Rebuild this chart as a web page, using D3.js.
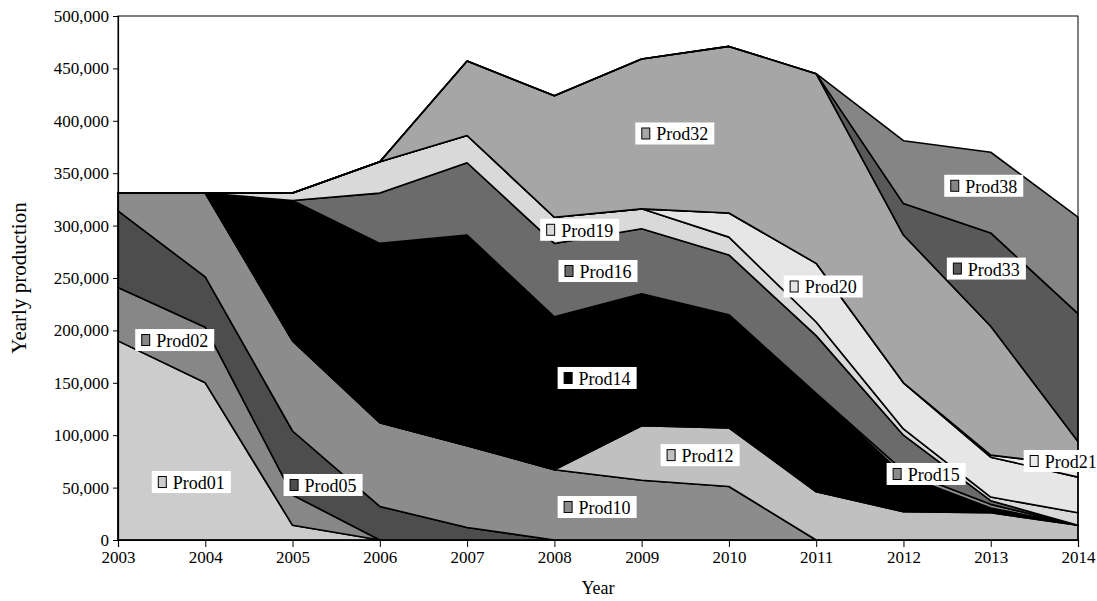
<!DOCTYPE html>
<html><head><meta charset="utf-8">
<script src="https://cdn.jsdelivr.net/npm/d3@7/dist/d3.min.js"></script>
<style>
body{margin:0;background:#fff}
text{font-family:"Liberation Serif","Times New Roman",serif;fill:#000}
</style>
</head><body>
<svg id="chart" width="1097" height="601"></svg>
<script>
// ---- data ----
const years = [2003,2004,2005,2006,2007,2008,2009,2010,2011,2012,2013,2014];
const Prod01 = [190000,150000,14000,0,0,0,0,0,0,0,0,0];
const Prod02 = [51000,53000,29000,0,0,0,0,0,0,0,0,0];
const Prod05 = [73000,48000,61000,32000,12000,0,0,0,0,0,0,0];
const Prod10 = [17000,80000,86000,80000,78000,67000,57000,51000,0,0,0,0];
const Prod12 = [0,0,0,0,0,0,52000,56000,46000,27000,26000,14000];
const Prod14 = [0,0,134000,171000,201000,146000,126000,108000,94000,35000,4500,0];
const Prod15 = [0,0,0,0,0,0,0,0,0,4000,3500,0];
const Prod16 = [0,0,0,48000,69000,70000,62000,57000,55000,34000,3500,0];
const Prod19 = [0,0,7000,30000,26000,25000,19000,17000,13000,6000,3500,12000];
const Prod20 = [0,0,0,0,0,0,0,23000,56000,44000,38000,34000];
const Prod21 = [0,0,0,0,0,0,0,0,0,0,2000,11000];
const Prod32 = [0,0,0,0,71000,116000,143000,159000,181000,141000,123000,23000];
const Prod33 = [0,0,0,0,0,0,0,0,0,30000,89000,122000];
const Prod38 = [0,0,0,0,0,0,0,0,0,60000,77000,92000];
const seriesNames = ["Prod01","Prod02","Prod05","Prod10","Prod12","Prod14","Prod15","Prod16","Prod19","Prod20","Prod21","Prod32","Prod33","Prod38"];
const seriesValues = [Prod01,Prod02,Prod05,Prod10,Prod12,Prod14,Prod15,Prod16,Prod19,Prod20,Prod21,Prod32,Prod33,Prod38];
const yTickValues = [0,50000,100000,150000,200000,250000,300000,350000,400000,450000,500000];
const xLabel = "Year";
const yLabel = "Yearly production";

// ---- styles / layout ----
const colors = {Prod01:"#cccccc",Prod02:"#878787",Prod05:"#4d4d4d",Prod10:"#8c8c8c",Prod12:"#c0c0c0",
  Prod14:"#000000",Prod15:"#8a8a8a",Prod16:"#6b6b6b",Prod19:"#d9d9d9",Prod20:"#e6e6e6",Prod21:"#ececec",
  Prod32:"#a6a6a6",Prod33:"#595959",Prod38:"#858585"};
// label anchors in data coordinates (box centres)
const labelAnchors = {Prod01:[2003.84,55300],Prod02:[2003.65,190800],Prod05:[2005.35,52500],Prod10:[2008.49,31500],
  Prod12:[2009.67,81000],Prod14:[2008.49,154600],Prod15:[2012.26,63000],Prod16:[2008.5,256700],Prod19:[2008.29,296000],
  Prod20:[2011.08,241900],Prod21:[2013.83,75400],Prod32:[2009.38,387900],Prod33:[2012.95,259000],Prod38:[2012.92,338000]};

const svg = d3.select("#chart");
const x = d3.scaleLinear().domain([2003,2014]).range([118,1078]);
const y = d3.scaleLinear().domain([0,500000]).range([540,16]);

const table = years.map((yr,i)=>{const o={year:yr};seriesNames.forEach((n,k)=>o[n]=seriesValues[k][i]);return o;});
const stack = d3.stack().keys(seriesNames)(table);

const area = d3.area().x(d=>x(d.data.year)).y0(d=>y(d[0])).y1(d=>y(d[1])).curve(d3.curveLinear);

svg.append("g").selectAll("path").data(stack).join("path")
  .attr("d",area).attr("fill",d=>colors[d.key])
  .attr("stroke","#000").attr("stroke-width",1.6).attr("stroke-linejoin","round");

// frame
svg.append("rect").attr("x",118).attr("y",16).attr("width",960).attr("height",524)
  .attr("fill","none").attr("stroke","#000").attr("stroke-width",1);

// axes
const yAxis = svg.append("g").attr("transform","translate(118,0)")
  .call(d3.axisLeft(y).tickValues(yTickValues).tickFormat(d3.format(",")).tickSize(5).tickPadding(4));
const xAxis = svg.append("g").attr("transform","translate(0,540)")
  .call(d3.axisBottom(x).tickValues(years).tickFormat(d3.format("d")).tickSize(7).tickPadding(4));
[yAxis,xAxis].forEach(g=>{
  g.attr("font-family",null);
  g.selectAll("path").attr("stroke","#000").attr("stroke-width",1.2);
  g.selectAll("line").attr("stroke","#000").attr("stroke-width",1);
  g.selectAll("text").attr("font-family","Liberation Serif, Times New Roman, serif").attr("font-size",17).attr("fill","#000");
});

svg.append("text").attr("x",598).attr("y",594).attr("text-anchor","middle").attr("font-size",18).text(xLabel);
svg.append("text").attr("transform","translate(26,278) rotate(-90)").attr("text-anchor","middle").attr("font-size",21).text(yLabel);

// labels
seriesNames.forEach(n=>{
  const [ly,lv] = labelAnchors[n];
  const cx = x(ly), cy = y(lv);
  const g = svg.append("g");
  const t = g.append("text").attr("font-size",18).attr("dominant-baseline","central").text(n);
  const tw = t.node().getComputedTextLength();
  const w = tw + 27, h = 22;
  const left = cx - w/2;
  g.insert("rect","text").attr("x",left).attr("y",cy-h/2).attr("width",w).attr("height",h).attr("fill","#fff");
  g.append("rect").attr("x",left+6.5).attr("y",cy-5.5).attr("width",8).attr("height",11)
    .attr("fill",colors[n]).attr("stroke","#000").attr("stroke-width",1);
  t.attr("x",left+21).attr("y",cy+1);
});
</script>
</body></html>
